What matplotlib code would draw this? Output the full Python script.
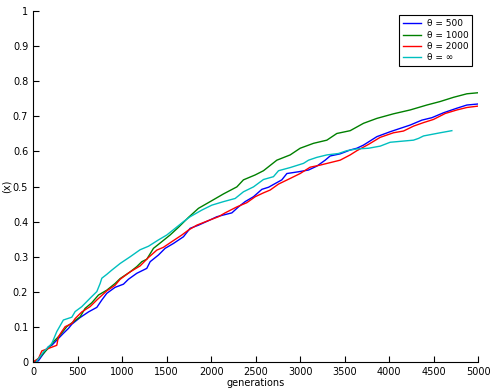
import matplotlib
matplotlib.use("Agg")
import matplotlib.pyplot as plt

# curves
blue_x = [0, 60, 172, 210, 340, 397, 435, 528, 622, 716, 772, 828, 921, 1015, 1071, 1165, 1277, 1315,
          1408, 1483, 1577, 1689, 1764, 1858, 1989, 2064, 2139, 2233, 2307, 2382, 2476, 2570, 2645,
          2794, 2851, 2981, 3094, 3187, 3281, 3337, 3449, 3562, 3637, 3712, 3862, 4011, 4236, 4367,
          4480, 4611, 4761, 4873, 5000]
blue_y = [0, 0.004, 0.044, 0.048, 0.082, 0.096, 0.108, 0.127, 0.143, 0.156, 0.177, 0.196, 0.213, 0.222,
          0.236, 0.253, 0.267, 0.286, 0.305, 0.324, 0.338, 0.357, 0.381, 0.390, 0.405, 0.414, 0.419,
          0.425, 0.442, 0.457, 0.471, 0.492, 0.498, 0.519, 0.537, 0.542, 0.547, 0.558, 0.575, 0.587,
          0.593, 0.604, 0.609, 0.618, 0.642, 0.656, 0.675, 0.689, 0.696, 0.710, 0.723, 0.732, 0.735]

green_x = [0, 60, 172, 228, 303, 378, 453, 528, 584, 659, 734, 828, 921, 978, 1090, 1165, 1221, 1277,
           1352, 1446, 1539, 1633, 1745, 1858, 1989, 2139, 2289, 2363, 2495, 2588, 2738, 2888, 3000,
           3150, 3300, 3412, 3562, 3712, 3862, 4048, 4236, 4423, 4573, 4723, 4873, 5000]
green_y = [0, 0.010, 0.040, 0.058, 0.077, 0.101, 0.115, 0.129, 0.153, 0.169, 0.191, 0.205, 0.224, 0.238,
           0.257, 0.272, 0.286, 0.293, 0.324, 0.343, 0.362, 0.384, 0.412, 0.438, 0.457, 0.479, 0.499,
           0.519, 0.533, 0.545, 0.575, 0.590, 0.609, 0.623, 0.632, 0.651, 0.659, 0.680, 0.694, 0.707,
           0.718, 0.732, 0.742, 0.754, 0.764, 0.767]

red_x = [0, 60, 98, 172, 266, 284, 322, 360, 435, 472, 547, 640, 716, 828, 921, 978, 1090, 1202, 1296,
         1390, 1464, 1558, 1671, 1745, 1839, 1989, 2082, 2157, 2289, 2401, 2495, 2588, 2663, 2757, 2888,
         3000, 3112, 3225, 3337, 3449, 3562, 3637, 3768, 3899, 4048, 4161, 4274, 4386, 4498, 4630, 4761,
         4873, 5000]
red_y = [0, 0.010, 0.032, 0.039, 0.048, 0.072, 0.087, 0.101, 0.110, 0.124, 0.143, 0.158, 0.177, 0.203,
         0.219, 0.236, 0.257, 0.274, 0.298, 0.319, 0.327, 0.343, 0.362, 0.376, 0.390, 0.405, 0.414, 0.425,
         0.442, 0.454, 0.471, 0.482, 0.490, 0.507, 0.523, 0.537, 0.555, 0.561, 0.568, 0.575, 0.590, 0.602,
         0.620, 0.640, 0.653, 0.658, 0.672, 0.682, 0.691, 0.708, 0.718, 0.725, 0.729]

cyan_x = [34, 116, 210, 266, 340, 435, 472, 547, 640, 716, 753, 772, 828, 884, 978, 1090, 1202, 1296,
          1408, 1502, 1596, 1689, 1764, 1896, 2008, 2139, 2270, 2363, 2476, 2588, 2700, 2757, 2888, 3038,
          3094, 3187, 3300, 3431, 3524, 3637, 3768, 3899, 4011, 4273, 4330, 4386, 4573, 4704]
cyan_y = [0, 0.029, 0.053, 0.087, 0.120, 0.128, 0.144, 0.158, 0.182, 0.201, 0.224, 0.239, 0.250, 0.262,
          0.281, 0.300, 0.320, 0.330, 0.348, 0.362, 0.381, 0.400, 0.414, 0.433, 0.447, 0.457, 0.466, 0.485,
          0.499, 0.520, 0.528, 0.545, 0.554, 0.566, 0.575, 0.583, 0.590, 0.594, 0.602, 0.607, 0.609, 0.615,
          0.626, 0.632, 0.637, 0.644, 0.653, 0.659]

labels = ["θ = 500", "θ = 1000", "θ = 2000", "θ = ∞"]
x_ticks = [0, 500, 1000, 1500, 2000, 2500, 3000, 3500, 4000, 4500, 5000]
y_ticks = [0, 0.1, 0.2, 0.3, 0.4, 0.5, 0.6, 0.7, 0.8, 0.9, 1]
y_tick_labels = ["0", "0.1", "0.2", "0.3", "0.4", "0.5", "0.6", "0.7", "0.8", "0.9", "1"]

fig = plt.figure(figsize=(4.94, 3.89), dpi=100)
ax = fig.add_axes([0.067, 0.069, 0.901, 0.903])

ax.plot(blue_x, blue_y, color="#0000ff", lw=1, label=labels[0])
ax.plot(green_x, green_y, color="#008000", lw=1, label=labels[1])
ax.plot(red_x, red_y, color="#ff0000", lw=1, label=labels[2])
ax.plot(cyan_x, cyan_y, color="#00bfbf", lw=1, label=labels[3])

ax.set_xlim(0, 5000)
ax.set_ylim(0, 1)
ax.set_xticks(x_ticks)
ax.set_yticks(y_ticks)
ax.set_yticklabels(y_tick_labels)
ax.tick_params(direction="in", length=4, labelsize=7, width=0.8)
ax.spines["top"].set_visible(False)
ax.spines["right"].set_visible(False)
ax.set_xlabel("generations", fontsize=7, labelpad=1)
ax.set_ylabel("(x)", fontsize=7, labelpad=1)

leg = ax.legend(loc="upper right", bbox_to_anchor=(0.997, 1.0), fontsize=6.5, fancybox=False,
                edgecolor="black", framealpha=1, handlelength=2.0, handletextpad=0.6,
                borderpad=0.45, labelspacing=0.25)
leg.get_frame().set_linewidth(0.8)

fig.savefig("out.png", dpi=100)
